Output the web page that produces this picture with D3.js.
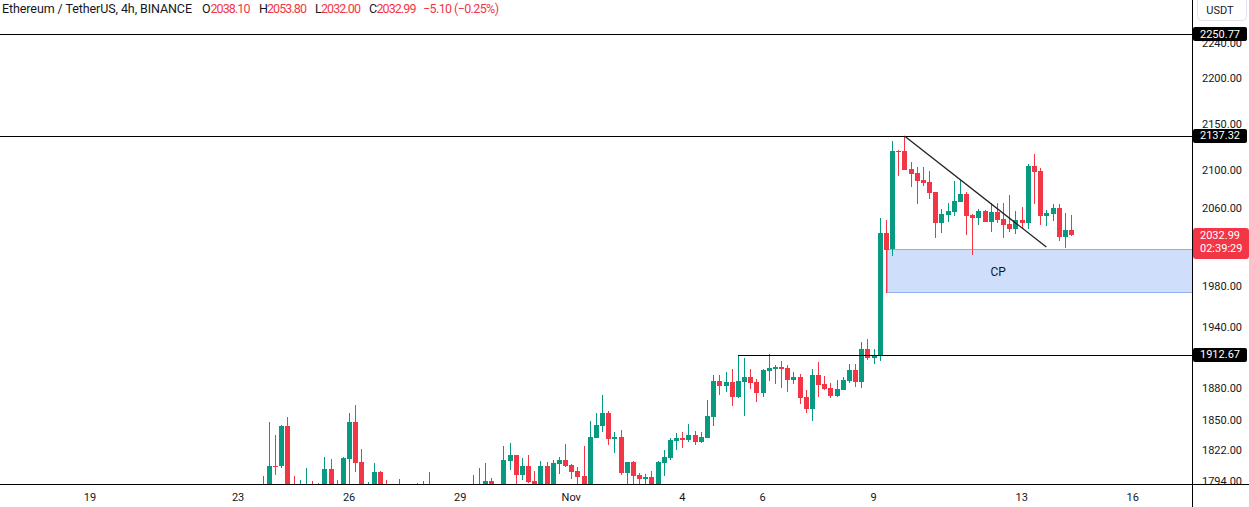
<!DOCTYPE html>
<html><head><meta charset="utf-8">
<script src="https://cdn.jsdelivr.net/npm/d3@7"></script>
<style>
html,body{margin:0;padding:0;background:#fff;overflow:hidden}
svg{display:block;font-family:Roboto,"Liberation Sans",sans-serif}
</style></head><body>
<svg id="chart" width="1249" height="507"></svg>
<script>
// ---------- data ----------
const bars = [28,29,30,31,32,33,34,35,36,37,38,39,40,41,42,43,44,45,46,47,48,50,53,54,55,
62,63,64,65,67,68,69,70,71,72,73,74,75,76,77,78,79,80,81,82,83,84,85,86,87,88,89,90,91,
92,93,94,95,96,97,98,99,100,101,102,103,104,105,106,107,108,109,110,111,
112,113,114,115,116,117,118,119,120,121,122,123,124,125,126,127,128,
129,130,131,132,133,134,135,136,137,138,139,140,141,142,143,144,
145,146,147,148,149,150,151,152,153,154,155,156,157,158,159];
const opens = [1783,1788,1808.3,1807.6,1845.0,1790,1786,1785,1790,1785,1788,1805.2,1789,1786,1814.4,1848.8,1811.7,1786,1788,1802.5,1790,1786,1785,1789,1786,
1785,1786,1788,1794.3,1786,1812.9,1818.1,1799.7,1808.0,1794.3,1788,1808.0,1789,1809.8,1813.5,1808.9,1803.4,1798.8,1786,1833.8,1845.0,1857.2,1832.8,1834.7,1801.6,1811.7,1799.7,1796.1,1797.9,
1789,1810.7,1815.4,1831.0,1833.8,1831.9,1836.6,1830.1,1833.8,1853.4,1887.6,1882.8,1886.7,1872.4,1886.7,1891.5,1886.7,1876.2,1897.3,1899.1,
1901.1,1900.1,1888.6,1891.5,1872.4,1861.0,1893.4,1884.7,1880.9,1873.3,1879.0,1887.6,1898.2,1886.7,1918.5,1909.8,1911.7,
2034.7,2018.3,2121.2,2121.2,2101.9,2097.6,2090.2,2088.1,2077.5,2045.1,2053.4,2056.5,2067.0,2075.5,2053.4,2050.3,
2057.6,2046.1,2056.5,2049.3,2044.0,2038.9,2048.2,2045.1,2105.1,2099.7,2052.4,2054.5,2060.7,2030.6,2038.10];
const highs = [1798.8,1848.8,1836.6,1846.0,1853.4,1798.8,1795.2,1806.1,1794.3,1792.5,1816.3,1814.4,1795.2,1816.3,1857.2,1864.8,1823.6,1793.4,1810.7,1803.0,1795.2,1796.1,1792.5,1794.3,1802.5,
1799.7,1806.1,1810.7,1797.0,1826.4,1829.2,1818.5,1815.4,1818.1,1803.4,1812.6,1811.7,1813.5,1816.3,1828.2,1809.5,1807.0,1826.4,1849.7,1857.2,1874.3,1859.1,1839.4,1841.3,1812.0,1812.6,1801.6,1800.6,1803.4,
1812.6,1822.7,1833.8,1838.5,1839.4,1846.9,1840.4,1839.4,1869.5,1893.4,1893.4,1896.3,1899.1,1911.7,1909.8,1899.1,1889.5,1899.1,1913.6,1903.0,
1906.9,1903.0,1896.3,1894.4,1879.0,1899.1,1906.0,1892.4,1885.7,1888.6,1891.5,1904.0,1904.0,1925.3,1928.2,1918.5,2050.3,
2048.2,2131.9,2122.0,2137.32,2109.3,2104.0,2104.0,2099.7,2077.8,2059.7,2066.0,2089.1,2090.2,2077.5,2054.5,2059.7,
2058.6,2066.0,2066.0,2066.0,2074.4,2057.6,2061.8,2107.2,2118.0,2103.0,2058.6,2064.9,2064.9,2055.5,2053.80];
const lows = [1779,1785,1799.7,1805.8,1780,1782,1781,1782,1783,1782,1785,1782,1781,1783,1785,1802.8,1783,1782,1785,1782,1781,1782,1781,1782,1783,
1781,1782,1784,1784,1783,1804.3,1787,1795.2,1792.5,1784,1785,1783,1786,1800.6,1807.0,1796.1,1790,1782,1783,1833.5,1839.4,1827.3,1820.0,1799.7,1786,1787,1788,1789,1785,
1786,1798.8,1813.5,1822.7,1824.5,1830.1,1827.3,1829.5,1833.5,1845.0,1874.3,1877.1,1863.9,1871.4,1854.4,1880.0,1867.6,1872.4,1887.6,1884.7,
1880.9,1877.1,1884.7,1865.7,1857.2,1849.7,1872.4,1879.0,1871.4,1872.4,1878.8,1885.7,1881.9,1880.9,1907.8,1904.0,1906.9,
1973.8,2011.2,2094.4,2100.5,2082.8,2064.9,2083.8,2070.2,2029.6,2034.7,2046.1,2052.4,2066.8,2032.7,2012.2,2043.0,
2045.8,2035.8,2045.1,2029.6,2035.8,2033.7,2039.9,2038.9,2064.9,2043.0,2042.0,2047.2,2026.5,2019.3,2032.00];
const closes = [1789,1808.0,1807.6,1845.0,1785,1784,1791,1790,1787,1789,1805.2,1786,1785,1815.4,1848.8,1811.0,1787,1790,1802.5,1787,1786,1790,1789,1786,1790,
1789,1790,1794.3,1788,1813.5,1818.1,1799.7,1808.0,1793.4,1788,1808.0,1787,1810.7,1813.5,1808.0,1802.5,1797.9,1786,1834.7,1846.0,1857.2,1832.8,1834.7,1801.6,1811.7,1798.8,1796.1,1797.9,1788,
1811.7,1816.3,1831.9,1833.8,1831.9,1836.6,1830.1,1834.7,1854.4,1887.6,1882.8,1886.7,1872.4,1887.6,1891.5,1885.7,1876.2,1898.2,1900.1,1901.1,
1899.1,1888.6,1891.5,1871.4,1861.0,1893.4,1883.8,1880.0,1873.3,1880.0,1888.6,1898.2,1886.7,1918.5,1909.8,1912.7,2034.7,
2017.3,2121.2,2120.1,2100.8,2096.6,2089.2,2087.0,2076.5,2045.1,2054.5,2057.6,2068.1,2075.5,2052.4,2050.3,2057.6,
2046.1,2056.5,2048.2,2043.0,2038.9,2048.2,2045.1,2105.1,2098.7,2052.4,2055.5,2060.7,2030.6,2037.9,2032.99];

const tickBars = [0,24,42,60,78,96,109,127,151,169];
const tickLabels = ["19","23","26","29","Nov","4","6","9","13","16"];
const priceTicks = [1794,1822,1850,1880,1940,1980,2060,2100,2150,2200,2240];
const levelPrices = [2250.77, 2137.32, 1912.67];
const levelStartBars = [null, null, 105];
const trendBars = [132, 155];
const trendPrices = [2137.32, 2020.3];
const zoneBars = [129.2, 165.2];
const zonePrices = [2018.3, 1974.8];
const zoneLabel = "CP";
const lastPrice = 2032.99;
const countdown = "02:39:29";
const currency = "USDT";
const legendTitle = "Ethereum / TetherUS, 4h, BINANCE";
const ohlcKeys = ["O","H","L","C"];
const ohlcValues = ["2038.10","2053.80","2032.00","2032.99"];
const changeText = "\u22125.10 (\u22120.25%)";

// ---------- layout ----------
const svg = d3.select("#chart");
const paneR = 1192, paneB = 484, W = 1249, H = 507;
const UP = "#089981", DOWN = "#f23645", INK = "#131722";
const x = d3.scaleLinear().domain([0, 169]).range([90, 90 + 6.17 * 169]);
const y = d3.scaleLog().domain([1794, 2250.77]).range([481.3, 34]);
const px = v => Math.round(v) + 0.5;

svg.append("rect").attr("width", W).attr("height", H).attr("fill", "#fff");
const defs = svg.append("defs");
defs.append("clipPath").attr("id", "pane").append("rect").attr("width", paneR).attr("height", paneB);
defs.append("clipPath").attr("id", "pscale").append("rect").attr("x", paneR).attr("width", W - paneR).attr("height", paneB);

const pane = svg.append("g").attr("clip-path", "url(#pane)");

// zone
const zx0 = Math.round(x(zoneBars[0]));
const zy0 = Math.round(y(zonePrices[0])), zy1 = Math.round(y(zonePrices[1]));
pane.append("rect").attr("x", zx0 + 0.5).attr("y", zy0 + 0.5)
  .attr("width", paneR - zx0 + 5).attr("height", zy1 - zy0)
  .attr("fill", "#cfdffb").attr("stroke", "#8db0ee").attr("stroke-width", 1);
pane.append("text").attr("x", x((zoneBars[0] + zoneBars[1]) / 2)).attr("y", (zy0 + zy1) / 2 + 1)
  .attr("text-anchor", "middle").attr("dominant-baseline", "central")
  .attr("font-size", 12).attr("fill", INK).text(zoneLabel);

// candles
const candles = bars.map((b, i) => ({b, o: opens[i], h: highs[i], l: lows[i], c: closes[i]}));
const col = d => d.c >= d.o ? UP : DOWN;
const cg = pane.append("g");
cg.selectAll("line").data(candles).join("line")
  .attr("x1", d => px(x(d.b))).attr("x2", d => px(x(d.b)))
  .attr("y1", d => Math.round(y(d.h))).attr("y2", d => Math.round(y(d.l)))
  .attr("stroke", col).attr("stroke-width", 1).attr("shape-rendering", "crispEdges");
cg.selectAll("rect").data(candles).join("rect")
  .attr("x", d => Math.round(x(d.b)) - 2).attr("width", 5)
  .attr("y", d => Math.round(Math.min(y(d.o), y(d.c))))
  .attr("height", d => Math.max(1, Math.round(Math.abs(y(d.o) - y(d.c)))))
  .attr("fill", col).attr("shape-rendering", "crispEdges");

// levels
levelPrices.forEach((p, i) => {
  const sx = levelStartBars[i] == null ? 0 : Math.round(x(levelStartBars[i]));
  pane.append("line").attr("x1", sx).attr("x2", paneR)
    .attr("y1", px(y(p))).attr("y2", px(y(p)))
    .attr("stroke", "#000").attr("stroke-width", 1);
});
// trend line
pane.append("line")
  .attr("x1", x(trendBars[0])).attr("y1", y(trendPrices[0]))
  .attr("x2", x(trendBars[1])).attr("y2", y(trendPrices[1]))
  .attr("stroke", "#222").attr("stroke-width", 1.3);

// axes frame
svg.append("line").attr("x1", 0).attr("x2", W).attr("y1", paneB + 0.5).attr("y2", paneB + 0.5)
  .attr("stroke", "#000").attr("stroke-width", 1);
svg.append("line").attr("x1", paneR + 0.5).attr("x2", paneR + 0.5).attr("y1", 0).attr("y2", H)
  .attr("stroke", "#000").attr("stroke-width", 1);

// price scale labels
const ps = svg.append("g").attr("clip-path", "url(#pscale)");
ps.selectAll("text.tick").data(priceTicks).join("text").attr("class", "tick")
  .attr("x", 1202).attr("y", d => y(d)).attr("dominant-baseline", "central")
  .attr("font-size", 11).attr("fill", INK).text(d => d.toFixed(2));

levelPrices.forEach(p => {
  const cy = y(p);
  ps.append("rect").attr("x", paneR + 1).attr("y", Math.round(cy) - 7).attr("width", 54).attr("height", 14)
    .attr("rx", 2).attr("fill", "#000");
  ps.append("text").attr("x", 1200).attr("y", cy).attr("dominant-baseline", "central")
    .attr("font-size", 11).attr("fill", "#fff").text(p.toFixed(2));
});
// last price label
const ly = y(lastPrice);
ps.append("rect").attr("x", paneR + 1).attr("y", Math.round(ly) - 7).attr("width", 56).attr("height", 31)
  .attr("rx", 3).attr("fill", DOWN);
ps.append("text").attr("x", 1200).attr("y", ly + 1).attr("dominant-baseline", "central")
  .attr("font-size", 11).attr("fill", "#fff").text(lastPrice.toFixed(2));
ps.append("text").attr("x", 1200).attr("y", ly + 14).attr("dominant-baseline", "central")
  .attr("font-size", 11).attr("fill", "#fff").text(countdown);

// currency button
svg.append("rect").attr("x", 1197.5).attr("y", -5).attr("width", 49).attr("height", 25.5)
  .attr("rx", 4).attr("fill", "#fff").attr("stroke", "#e0e3eb");
svg.append("text").attr("x", 1220).attr("y", 10).attr("text-anchor", "middle")
  .attr("dominant-baseline", "central").attr("font-size", 11).attr("fill", INK).text(currency);

// time axis
svg.selectAll("text.time").data(tickBars).join("text").attr("class", "time")
  .attr("x", d => x(d)).attr("y", 497).attr("text-anchor", "middle").attr("dominant-baseline", "central")
  .attr("font-size", 11).attr("fill", INK).text((d, i) => tickLabels[i]);

// legend
const lg = svg.append("g").attr("font-size", 12.5);
lg.append("text").attr("x", 2).attr("y", 12.5).attr("fill", INK)
  .attr("textLength", 190).text(legendTitle);
const keyX = [202, 259, 315, 369], valX = [210.5, 267, 321, 376.5];
ohlcKeys.forEach((k, i) => {
  lg.append("text").attr("x", keyX[i]).attr("y", 12.5).attr("fill", INK).text(k);
  lg.append("text").attr("x", valX[i]).attr("y", 12.5).attr("fill", DOWN)
    .attr("textLength", 40).text(ohlcValues[i]);
});
lg.append("text").attr("x", 423).attr("y", 12.5).attr("fill", DOWN)
  .attr("textLength", 76).text(changeText);
</script>
</body></html>
